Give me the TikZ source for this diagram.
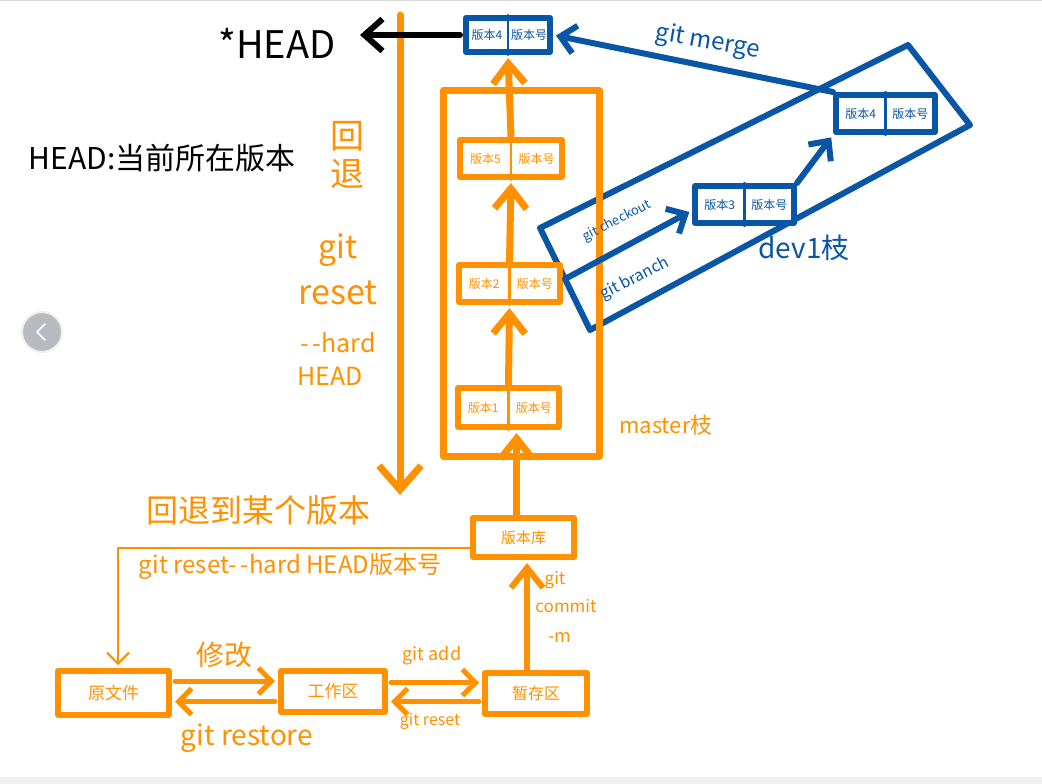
\documentclass[tikz,border=0pt]{standalone}
\usepackage{fontspec}
\setmainfont{Noto Sans CJK SC}
\usetikzlibrary{arrows.meta,calc}
\definecolor{og}{RGB}{255,145,0}
\definecolor{bl}{RGB}{8,86,165}
\definecolor{navg}{RGB}{184,186,191}
\newcommand\fsz[1]{\fontsize{#1}{#1}\selectfont}
\newcommand\verbox[8]{%
  \node[draw=#6,line width=6pt,fill=white,minimum width=#4pt,minimum height=#5pt,inner sep=0pt] (#1) at (#2,#3) {};
  \draw[#6,line width=2.5pt] (#1.north) -- (#1.south);
  \node[text=#6,font=\fsz{12}] (#1-l) at ([xshift={-0.25*#4pt}]#1.center) {#7};
  \node[text=#6,font=\fsz{12}] (#1-r) at ([xshift={0.25*#4pt}]#1.center) {#8};
}
\begin{document}
\begin{tikzpicture}[x=1pt,y=-1pt,line cap=round,line join=round,
  obox/.style={draw=og,line width=6pt,fill=white,inner sep=0pt,text=og},
  oarr/.style={og,line width=7pt,-{Straight Barb[length=20pt,width=32pt]},shorten >=3pt},
  oarr2/.style={og,line width=5pt,-{Straight Barb[length=13pt,width=26pt]},shorten >=3pt,shorten <=3pt},
  barr/.style={bl,line width=6pt,-{Straight Barb[length=15pt,width=28pt]},shorten >=3pt},
  otxt/.style={text=og,inner sep=0pt},
  btxt/.style={text=bl,inner sep=0pt}]
\useasboundingbox (0,0) rectangle (1042,784);
\fill[white] (0,0) rectangle (1042,784);
\fill[black!6] (0,777) rectangle (1042,784);
\fill[black!15] (0,0) rectangle (1042,1.5);

% navigation button
\node[circle,fill=navg,draw=black!6,line width=2pt,minimum size=40pt,inner sep=0pt] (nav) at (42,332) {};
\draw[white,line width=1.5pt] ([xshift=3pt,yshift=8pt]nav.center) -- ([xshift=-5pt]nav.center) -- ([xshift=3pt,yshift=-8pt]nav.center);

% blue dev branch outline
\coordinate (p1) at (540,228);
\coordinate (p2) at (908,45);
\coordinate (p3) at (970,125);
\coordinate (p4) at (590,330);
\draw[bl,line width=6pt] (p1) -- (p2) -- (p3) -- (p4) -- cycle;
\node[btxt,font=\fsz{28}] (tdev) at (804,248) {dev1枝};
\node[btxt,font=\fsz{24},rotate=-10] (tmg) at (708,42) {git merge};

% master box
\node[draw=og,line width=7pt,minimum width=156pt,minimum height=366pt,inner sep=0pt] (master) at (521.5,273.5) {};
\node[otxt,font=\fsz{22}] (tmaster) at (666,425) {master枝};
\node[btxt,font=\fsz{13},rotate=27] (tck) at (617,221) {git checkout};
\node[btxt,font=\fsz{16},rotate=27] (tbr) at (635,279) {git branch};

% version boxes
\verbox{top}{508}{35}{84}{34}{bl}{版本4}{版本号}
\verbox{v5}{511}{158.5}{102}{37}{og}{版本5}{版本号}
\verbox{v2}{509.5}{283.5}{101}{37}{og}{版本2}{版本号}
\verbox{v1}{508.5}{407.5}{101}{39}{og}{版本1}{版本号}
\verbox{dv3}{744.5}{204.5}{99}{37}{bl}{版本3}{版本号}
\verbox{dv4}{885.5}{113.5}{99}{37}{bl}{版本4}{版本号}

\node[obox,minimum width=101pt,minimum height=39pt,font=\fsz{15}] (vk) at (523.5,537.5) {版本库};
\node[obox,minimum width=111pt,minimum height=44pt,font=\fsz{17}] (ywj) at (113.5,693) {原文件};
\node[obox,minimum width=104pt,minimum height=41pt,font=\fsz{17}] (gzq) at (333,691.5) {工作区};
\node[obox,minimum width=102pt,minimum height=41pt,font=\fsz{16}] (zcq) at (536,693.5) {暂存区};

% vertical orange arrows
\coordinate (c1) at ([xshift=-7pt]vk.north);
\draw[oarr] (c1) -- (c1 |- v1.south);
\draw[oarr] (v1.north) -- (v2.south);
\draw[oarr] (v2.north) -- (v5.south);
\draw[oarr] (v5.north) -- (top.south);
\coordinate (c2) at ([xshift=-9pt]zcq.north);
\draw[oarr,line width=6pt] (c2) -- (c2 |- vk.south);

% git reset --hard HEAD arrow
\coordinate (rs) at (400,15);
\coordinate (re) at (400,495);
\draw[og,line width=7pt,-{Straight Barb[length=24pt,width=42pt]}] (rs) -- (re);

% black HEAD arrow
\coordinate (hh) at (360,35);
\draw[black,line width=6pt,-{Straight Barb[length=18pt,width=32pt]},shorten <=3pt] (top.west) -- (hh);
\node[text=black,font=\fsz{38},inner sep=0pt] (thead) at (277,43) {*HEAD};
\node[text=black,font=\fsz{30},inner sep=0pt] (tdesc) at (162,158) {HEAD:当前所在版本};

% orange left texts
\node[otxt,font=\fsz{34},align=center] (thui) at (347,155) {回\\[4pt]退};
\node[otxt,font=\fsz{32}] (tg1) at (338,250) {git};
\node[otxt,font=\fsz{34}] (tg2) at (338,293) {reset};
\node[otxt,font=\fsz{25}] (tg3) at (338,343) {-\,-hard};
\node[otxt,font=\fsz{25}] (tg4) at (330,376) {HEAD};

% reset to a version
\coordinate (rc) at (118,548);
\draw[og,line width=2pt,-{Straight Barb[length=11pt,width=22pt]},shorten >=3pt] (vk.west |- rc) -- (rc) -- (rc |- ywj.north);
\node[otxt,font=\fsz{32}] (tback) at (258,510) {回退到某个版本};
\node[otxt,font=\fsz{24}] (tback2) at (290,566) {git reset-\,-hard HEAD版本号};

% git commit
\node[otxt,font=\fsz{17}] (tc1) at (555,580) {git};
\node[otxt,font=\fsz{17}] (tc2) at (566,606) {commit};
\node[otxt,font=\fsz{18}] (tc3) at (560,637) {-m};

% bottom arrows
\coordinate (r1) at ($(ywj.east)+(0,-12)$);
\draw[oarr2] (r1) -- (r1 -| gzq.west);
\coordinate (r2) at ($(gzq.west)+(0,10)$);
\draw[oarr2] (r2) -- (r2 -| ywj.east);
\coordinate (r3) at ($(gzq.east)+(0,-9)$);
\draw[oarr2] (r3) -- (r3 -| zcq.west);
\coordinate (r4) at ($(zcq.west)+(0,8)$);
\draw[oarr2] (r4) -- (r4 -| gzq.east);
\node[otxt,font=\fsz{28}] (tmod) at (224,655) {修改};
\node[otxt,font=\fsz{28}] (trest) at (247,738) {git restore};
\node[otxt,font=\fsz{18}] (tadd) at (432,656) {git add};
\node[otxt,font=\fsz{16}] (treset) at (430,721) {git reset};

% blue arrows
\coordinate (ck) at ($(p1)!0.5!(p4)$);
\draw[barr] (ck) -- ($(dv3.west)+(0,6)$);
\draw[barr] (dv3.north east) -- (dv4.south west);
\draw[barr] (dv4.north west) -- (top.east);
\end{tikzpicture}
\end{document}
